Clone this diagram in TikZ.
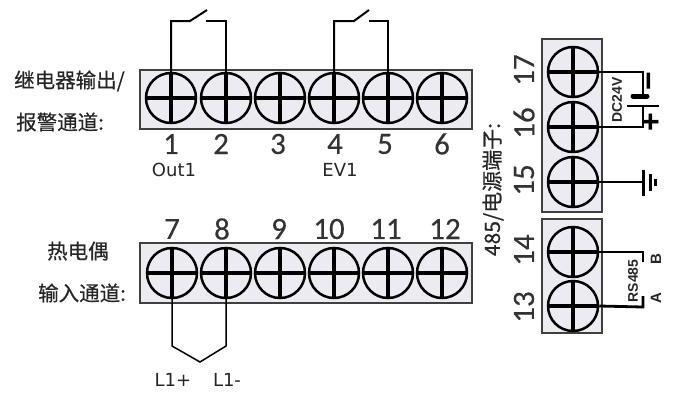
\documentclass[tikz,border=0pt]{standalone}
\usepackage{fontspec}
\setmainfont[FakeBold=0.25]{Carlito}
\newfontfamily\cjk[FakeBold=0.5]{Noto Sans CJK SC}
\newfontfamily\lab{DejaVu Sans}
\newfontfamily\arb{Liberation Sans}
\tikzset{
  x=1pt,y=-1pt,
  strip/.style={draw=black!75,line width=1.6pt,fill=blue!30!black!8!white,minimum width=#1,inner sep=0pt},
  screw/.style={circle,draw=black,line width=2.5pt,minimum size=50pt,inner sep=0pt,
    path picture={\draw[line width=4pt,black]
      (path picture bounding box.west)--(path picture bounding box.east)
      (path picture bounding box.north)--(path picture bounding box.south);}},
  num/.style={font=\fontsize{31}{31}\selectfont,text=black!80,inner sep=0pt},
  tag/.style={font=\lab\fontsize{18}{18}\selectfont,text=black!85,inner sep=0pt},
  cn/.style={font=\cjk\fontsize{20.5}{21}\selectfont,text=black!85,inner sep=0pt},
  wire/.style={draw=black,line width=2pt},
  heavy/.style={draw=black,line width=2.8pt},
  boldtag/.style={font=\arb\bfseries\fontsize{14}{14}\selectfont,text=black!85,inner sep=0pt,rotate=90},
  sign/.style={font=\arb\bfseries\fontsize{32}{32}\selectfont,text=black,inner sep=0pt,rotate=90},
}
\begin{document}
\begin{tikzpicture}
\useasboundingbox (0,0) rectangle (685,399);
% strips
\node[strip=332pt,minimum height=59pt] (top) at (306,99.5) {};
\node[strip=332pt,minimum height=60pt] (bot) at (306,273) {};
\node[strip=60pt,minimum height=173pt] (r1) at (572,125.5) {};
\node[strip=60pt,minimum height=114pt] (r2) at (572,276) {};
% screws
\foreach \n/\x in {1/171,2/226,3/280,4/334,5/388,6/442}
  \node[screw] (s\n) at (\x,98) {};
\foreach \n/\x in {7/172,8/226,9/280,10/334,11/388,12/442}
  \node[screw] (s\n) at (\x,273) {};
\foreach \n/\y in {17/72,16/127,15/182,14/252,13/306}
  \node[screw] (s\n) at (573,\y) {};
% numbers
\foreach \t/\x in {1/171,2/221,3/278,4/335,5/385,6/442}
  \node[num] (n\t) at (\x,144) {\t};
\foreach \t/\x in {7/172,8/222,9/279,10/329,11/386,12/445}
  \node[num] (n\t) at (\x,229) {\t};
\foreach \t/\y in {17/70,16/123,15/180,14/250,13/307}
  \node[num,rotate=90] (n\t) at (524,\y) {\t};
% text
\node[tag] (out) at (174,170) {Out1};
\node[tag] (ev) at (340,170) {EV1};
\node[tag] (lp) at (173,380) {L1+};
\node[tag] (lm) at (227,380) {L1-};
\node[cn,anchor=west] (c1) at (14,81) {继电器输出/};
\node[cn,anchor=west] (c2) at (16,122) {报警通道:};
\node[cn,anchor=west] (c3) at (47,251) {热电偶};
\node[cn,anchor=west] (c4) at (38,293) {输入通道:};
\node[cn,rotate=90,font=\cjk\fontsize{21}{21}\selectfont] (c5) at (493,189.5) {485/电源端子:};
\node[boldtag] (dc) at (617,100) {DC24V};
\node[boldtag] (rs) at (633,281) {RS485};
\node[boldtag,font=\arb\bfseries\fontsize{15}{15}\selectfont] (b) at (656,259) {B};
\node[boldtag,font=\arb\bfseries\fontsize{15}{15}\selectfont] (a) at (656,298) {A};
\node[sign] (minus) at (653,81) {−};
\node[sign] (plus) at (652,122) {+};
% relay wires
\coordinate (a1) at (190,21); \coordinate (b1) at (207,10); \coordinate (c1x) at (206,21);
\coordinate (a2) at (354,21); \coordinate (b2) at (369,10); \coordinate (c2x) at (369,21);
\draw[wire] (s1.center) -- (s1.center |- a1) -- (a1) -- (b1);
\draw[wire] (s2.center) -- (s2.center |- c1x) -- (c1x);
\draw[wire] (s4.center) -- (s4.center |- a2) -- (a2) -- (b2);
\draw[wire] (s5.center) -- (s5.center |- c2x) -- (c2x);
% thermocouple
\coordinate (tip) at (200,362);
\draw[wire,line width=1.5pt] (s7.center) -- (s7.center |- 0,346) -- (tip) -- (s8.center |- 0,346) -- (s8.center);
% power
\coordinate (p1) at (643,95); \coordinate (p2) at (643,106);
\draw[heavy] (s17.east) -- (643,72) -- (p1);
\draw[heavy] (s16.east) -- (643,127) -- (p2);
\draw[line width=5pt,line cap=round,draw=black] (633,96) -- (647,96);
\draw[line width=2pt,draw=black] (627,106) -- (659,106);
% ground
\coordinate (g) at (643,182);
\draw[wire] (s15.east) -- (g);
\draw[line width=3pt,draw=black] (643,170) -- (643,196);
\draw[line width=3pt,draw=black] (650,174) -- (650,191);
\draw[line width=3pt,draw=black] (655,179) -- (655,186);
% rs485
\draw[heavy] (s14.east) -- (643,252) -- (643,262);
\draw[heavy] (s13.east) -- (643,307) -- (643,296);
\end{tikzpicture}
\end{document}
